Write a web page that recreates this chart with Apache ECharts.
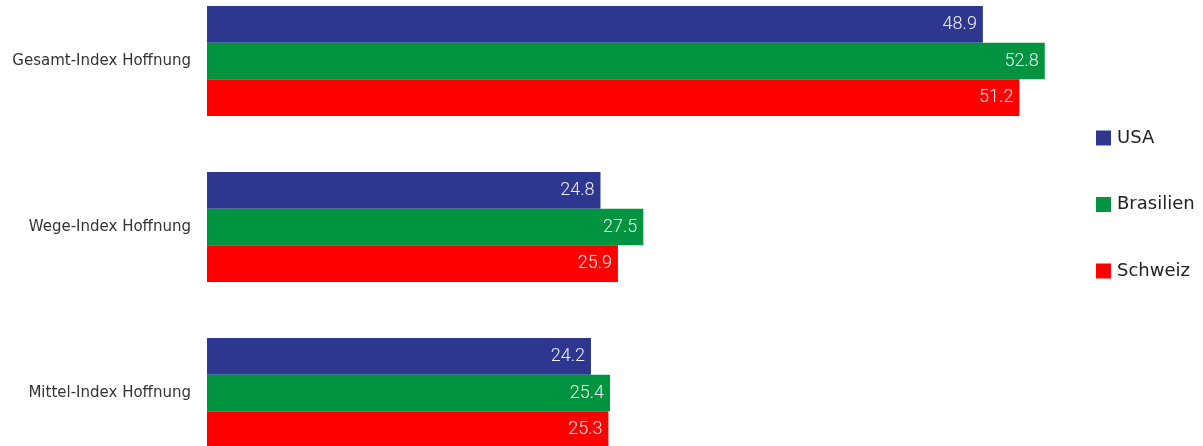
<!DOCTYPE html>
<html><head><meta charset="utf-8">
<script src="https://cdn.jsdelivr.net/npm/echarts@6/dist/echarts.min.js"></script>
<style>html,body{margin:0;padding:0;background:#fff;overflow:hidden;width:1203px;height:446px}#c{width:1203px;height:498px;margin-top:-22px}</style>
</head><body><div id="c"></div>
<script>
const categories = ['Gesamt-Index Hoffnung', 'Wege-Index Hoffnung', 'Mittel-Index Hoffnung'];
const seriesNames = ['USA', 'Brasilien', 'Schweiz'];
const usa = [48.9, 24.8, 24.2];
const brasilien = [52.8, 27.5, 25.4];
const schweiz = [51.2, 25.9, 25.3];
const colors = ['#2E3790', '#009340', '#FF0000'];

const chart = echarts.init(document.getElementById('c'), null, {renderer: 'canvas'});
const values = [usa, brasilien, schweiz];
const series = seriesNames.map((n, i) => ({
  name: n,
  type: 'bar',
  data: values[i],
  barGap: '0%',
  barCategoryGap: '33.7%',
  itemStyle: {color: colors[i]},
  label: {
    show: true, position: 'insideRight', distance: 6,
    color: 'rgba(255,255,255,0.92)', fontFamily: 'Roboto', fontWeight: 300, fontSize: 18,
    formatter: p => p.value.toFixed(1)
  }
}));
chart.setOption({
  animation: false,
  grid: {left: 207, top: 0, width: 952, height: 498, containLabel: false},
  xAxis: {type: 'value', min: 0, max: 60, show: false},
  yAxis: {
    type: 'category', data: categories, inverse: true,
    axisLine: {show: false}, axisTick: {show: false}, splitLine: {show: false},
    axisLabel: {margin: 16, color: '#333', fontFamily: 'DejaVu Sans', fontSize: 15}
  },
  legend: {
    orient: 'vertical', left: 1096, top: 151, padding: 0, itemWidth: 15, itemHeight: 15, itemGap: 48.5,
    icon: 'rect',
    textStyle: {color: '#222', fontFamily: 'DejaVu Sans', fontSize: 18, padding: [0,0,0,1]},
    data: seriesNames
  },
  series: series
});
</script></body></html>
